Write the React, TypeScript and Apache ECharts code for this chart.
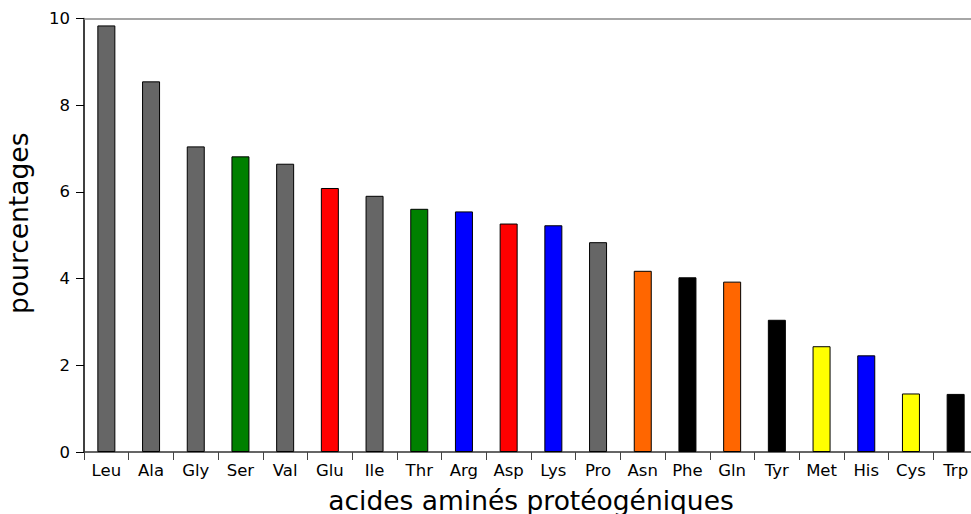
import React, { useEffect, useRef } from "react";
import * as echarts from "echarts";

const categories = ["Leu", "Ala", "Gly", "Ser", "Val", "Glu", "Ile", "Thr", "Arg", "Asp", "Lys", "Pro", "Asn", "Phe", "Gln", "Tyr", "Met", "His", "Cys", "Trp"];
const percentages = [9.84, 8.55, 7.05, 6.82, 6.65, 6.09, 5.91, 5.61, 5.55, 5.27, 5.23, 4.84, 4.18, 4.03, 3.93, 3.05, 2.44, 2.23, 1.35, 1.34];
const classes = ["aliphatique", "aliphatique", "aliphatique", "hydroxyle", "aliphatique", "acide", "aliphatique", "hydroxyle", "basique", "acide", "basique", "aliphatique", "amide", "aromatique", "amide", "aromatique", "soufre", "basique", "soufre", "aromatique"];
const yTicks = [0, 2, 4, 6, 8, 10];

const classColors: Record<string, string> = {
  aliphatique: "#666666",
  hydroxyle: "#008000",
  acide: "#ff0000",
  basique: "#0000ff",
  amide: "#ff6600",
  aromatique: "#000000",
  soufre: "#ffff00",
};

const FONT = "DejaVu Sans";

export default function App() {
  const ref = useRef<HTMLDivElement>(null);
  useEffect(() => {
    if (!ref.current) return;
    const chart = echarts.init(ref.current, undefined, { renderer: "svg" });
    chart.setOption({
      animation: false,
      backgroundColor: "#ffffff",
      grid: { left: 84, right: -7, top: 18.5, bottom: 62, containLabel: false, outerBoundsMode: "none" },
      xAxis: [
        {
          type: "category",
          data: categories,
          position: "bottom",
          boundaryGap: true,
          name: "acides aminés protéogéniques",
          nameLocation: "middle",
          nameGap: 35,
          nameTextStyle: { fontFamily: FONT, fontSize: 26.5, lineHeight: 26, color: "#000" },
          axisLine: { show: true, lineStyle: { color: "#333333", width: 1.5 } },
          axisTick: { show: true, length: 8, inside: false, alignWithLabel: false, lineStyle: { color: "#444444", width: 1 } },
          axisLabel: { fontFamily: FONT, fontSize: 16.5, color: "#000", margin: 10, interval: 0 },
          splitLine: { show: false },
        },
        {
          type: "category",
          data: categories,
          position: "top",
          axisLine: { show: true, lineStyle: { color: "#888888", width: 1.5 } },
          axisTick: { show: false },
          axisLabel: { show: false },
          splitLine: { show: false },
        },
      ],
      yAxis: {
        type: "value",
        min: yTicks[0],
        max: yTicks[yTicks.length - 1],
        interval: 2,
        name: "pourcentages",
        nameLocation: "middle",
        nameGap: 52,
        nameTextStyle: { fontFamily: FONT, fontSize: 26.5, color: "#000", padding: [0, 0, 0, 24] },
        axisLine: { show: true, lineStyle: { color: "#000000", width: 1.5 } },
        axisTick: { show: true, length: 8, inside: false, lineStyle: { color: "#000000", width: 1 } },
        axisLabel: { fontFamily: FONT, fontSize: 16.5, color: "#000", margin: 14 },
        splitLine: { show: false },
      },
      series: [
        {
          type: "bar",
          xAxisIndex: 0,
          barWidth: 18,
          data: percentages.map((v, i) => ({
            value: v,
            itemStyle: { color: classColors[classes[i]], borderColor: "#000000", borderWidth: 1 },
          })),
        },
      ],
    });
    return () => chart.dispose();
  }, []);
  return <div ref={ref} style={{ position: "absolute", left: 0, top: 0, width: 971, height: 514 }} />;
}
